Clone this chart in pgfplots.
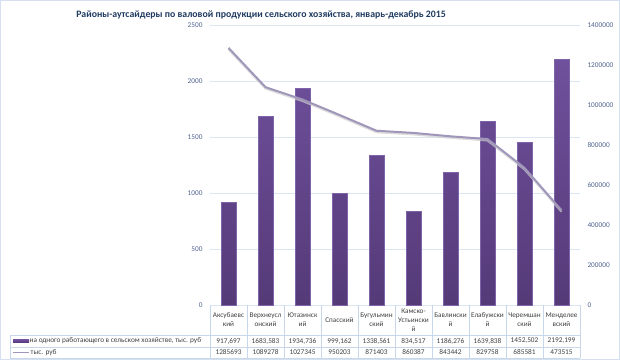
\documentclass[border=0pt]{standalone}
\usepackage{pgfplots}
\pgfplotsset{compat=1.18}
\usepackage{fontspec}
\setmainfont{Carlito}
\definecolor{titlec}{HTML}{1F3A60}
\definecolor{tickc}{HTML}{4F6290}
\definecolor{gridc}{HTML}{DCE6F2}
\definecolor{framec}{HTML}{D5E1F0}
\definecolor{tabline}{HTML}{C9D7EA}
\definecolor{tabtext}{HTML}{404040}
\definecolor{barTop}{HTML}{6F509C}
\definecolor{barBot}{HTML}{553A78}
\definecolor{barEdge}{HTML}{7E64A8}
\definecolor{linec}{HTML}{A096BA}
\newcommand{\fs}{\fontsize{7.3}{9}\selectfont}
\begin{document}
\begin{tikzpicture}[x=1pt,y=1pt]
\useasboundingbox (0,0) rectangle (620,360);
\draw[framec, line width=0.8pt] (0.5,0.5) rectangle (619.5,359.5);
\node[font=\bfseries\fontsize{9.8}{11}\selectfont, text=titlec] at (261,345) {Районы-аутсайдеры по валовой продукции сельского хозяйства, январь-декабрь 2015};
\begin{axis}[
  at={(210pt,55pt)}, anchor=south west, scale only axis,
  width=370pt, height=280pt,
  xmin=-0.5, xmax=9.5, ymin=0, ymax=2500,
  ytick={0,500,...,2500}, ymajorgrids,
  grid style={gridc, line width=0.7pt},
  axis line style={draw=none}, major tick length=0pt,
  xtick={0,...,9},
  xticklabels={{Аксубаевс\\кий},{Верхнеусл\\онский},{Ютазинск\\ий},{Спасский},{Бугульмин\\ский},{Камско-\\Устьински\\й},{Бавлински\\й},{Елабужски\\й},{Черемшан\\ский},{Менделее\\вский}},
  xticklabel style={align=center, anchor=center, yshift=-15pt, font=\fontsize{7.2}{9}\selectfont, text=tabtext},
  yticklabel style={font=\fs, text=tickc, xshift=-4pt},
  /pgf/number format/assume math mode=true,
  /pgf/number format/fixed,
  /pgf/number format/1000 sep={},
  ybar, bar width=15pt, clip=false,
]
\addplot[draw=barEdge, line width=0.4pt, top color=barTop, bottom color=barBot] coordinates {
(0,917.697) (1,1683.583) (2,1934.736) (3,999.162) (4,1338.561) (5,834.517) (6,1186.276) (7,1639.838) (8,1452.502) (9,2192.199)};
\end{axis}
\begin{axis}[
  at={(210pt,55pt)}, anchor=south west, scale only axis,
  width=370pt, height=280pt,
  xmin=-0.5, xmax=9.5, ymin=0, ymax=1400000,
  axis y line*=right, axis x line=none,
  axis line style={draw=none}, major tick length=0pt,
  ytick={0,200000,400000,600000,800000,1000000,1200000,1400000}, scaled y ticks=false,
  yticklabel style={font=\fs, text=tickc, xshift=4pt},
  /pgf/number format/assume math mode=true,
  /pgf/number format/fixed,
  /pgf/number format/1000 sep={},
]
\addplot[black!20, line width=2pt, no markers, yshift=-1.5pt, opacity=0.7] coordinates {
(0,1285693) (1,1089278) (2,1027345) (3,950203) (4,871403) (5,860387) (6,843442) (7,829758) (8,685581) (9,473515)};
\addplot[linec, line width=2pt, no markers] coordinates {
(0,1285693) (1,1089278) (2,1027345) (3,950203) (4,871403) (5,860387) (6,843442) (7,829758) (8,685581) (9,473515)};
\end{axis}
% data table
\draw[tabline, line width=0.6pt] (10,25) -- (580,25);
\draw[tabline, line width=0.6pt] (10,13) -- (580,13);
\draw[tabline, line width=0.6pt] (10,2) -- (580,2);
\draw[tabline, line width=0.6pt] (10,25) -- (10,2);
\foreach \k in {0,...,10} { \draw[tabline, line width=0.6pt] (210+37*\k,55) -- (210+37*\k,2); }
\fill[top color=barTop, bottom color=barBot] (13,17.5) rectangle (29,20.5);
\draw[linec, line width=1.2pt] (13,7.5) -- (29,7.5);
\node[anchor=west, font=\fs, text=tabtext, inner sep=0.5pt] at (29,19) {на одного работающего в сельском хозяйстве, тыс. руб};
\node[anchor=west, font=\fs, text=tabtext, inner sep=0.5pt] at (30,7.5) {тыс. руб};
\foreach \v [count=\i from 0] in {{917,697},{1683,583},{1934,736},{999,162},{1338,561},{834,517},{1186,276},{1639,838},{1452,502},{2192,199}}
  { \node[font=\fs, text=tabtext] at (228.5+37*\i,19) {\v}; }
\foreach \v [count=\i from 0] in {1285693,1089278,1027345,950203,871403,860387,843442,829758,685581,473515}
  { \node[font=\fs, text=tabtext] at (228.5+37*\i,7.5) {\v}; }
\end{tikzpicture}
\end{document}
